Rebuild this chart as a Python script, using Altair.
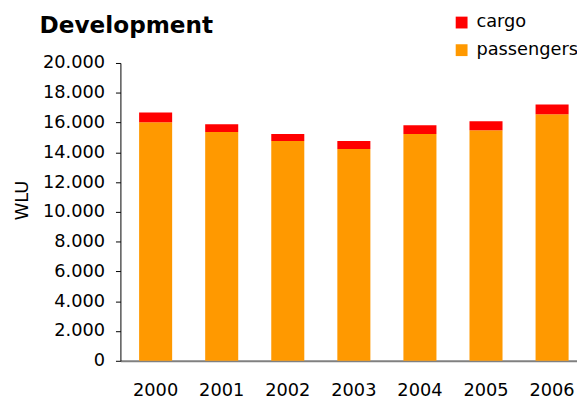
import altair as alt
import pandas as pd

years = ["2000", "2001", "2002", "2003", "2004", "2005", "2006"]
passengers = [16020, 15360, 14760, 14230, 15230, 15490, 16550]
cargo = [660, 530, 470, 530, 590, 600, 660]
y_ticks = [0, 2000, 4000, 6000, 8000, 10000, 12000, 14000, 16000, 18000, 20000]
series = ["cargo", "passengers"]
colors = ["#ff0000", "#ff9900"]

rows = []
for yr, p, c in zip(years, passengers, cargo):
    rows.append({"year": yr, "series": "passengers", "value": p, "ord": 0})
    rows.append({"year": yr, "series": "cargo", "value": c, "ord": 1})
df = pd.DataFrame(rows)

FONT = "DejaVu Sans"

chart = alt.Chart(df).mark_bar().encode(
    x=alt.X(
        "year:N",
        scale=alt.Scale(paddingInner=0.5, paddingOuter=0.205, align=0.69),
        axis=alt.Axis(
            title=None, labelAngle=0, ticks=False, labelFontSize=18,
            labelPadding=35, labelBaseline="alphabetic", domainColor="#808080",
            domainWidth=2, labelColor="#000", labelFont=FONT,
        ),
    ),
    y=alt.Y(
        "value:Q",
        stack="zero",
        scale=alt.Scale(domain=[0, 20000], nice=False),
        axis=alt.Axis(
            title="WLU", values=y_ticks,
            labelExpr="replace(format(datum.value, ','), ',', '.')",
            grid=False, tickSize=5, tickColor="#000", domainColor="#000",
            labelFontSize=18, labelPadding=11, labelFont=FONT, labelColor="#000",
            titleFontSize=18, titleFontWeight="normal", titleFont=FONT,
            titleX=-94, titleY=139, titleAngle=270, titleAlign="center",
            titleBaseline="alphabetic", titleColor="#000",
        ),
    ),
    color=alt.Color(
        "series:N",
        scale=alt.Scale(domain=series, range=colors),
        legend=alt.Legend(
            title=None, orient="none", legendX=337, legendY=-50,
            symbolType="square", symbolSize=144, symbolStrokeWidth=0,
            labelFontSize=18, labelOffset=6, rowPadding=10, padding=0,
            labelFont=FONT, labelColor="#000", labelLimit=300,
        ),
    ),
    order=alt.Order("ord:Q", sort="ascending"),
).properties(
    width=463,
    height=302,
    title=alt.TitleParams(
        "Development", anchor="start", frame="group", fontSize=23.5,
        fontWeight="bold", font=FONT, dx=-82, offset=0, dy=43,
        baseline="alphabetic", color="#000",
    ),
    autosize=alt.AutoSizeParams(type="none"),
    padding={"left": 114, "top": 53, "right": 0, "bottom": 37},
).configure(font=FONT).configure_view(stroke=None)

chart.save("out.html", embed_options={"renderer": "svg", "actions": False})
